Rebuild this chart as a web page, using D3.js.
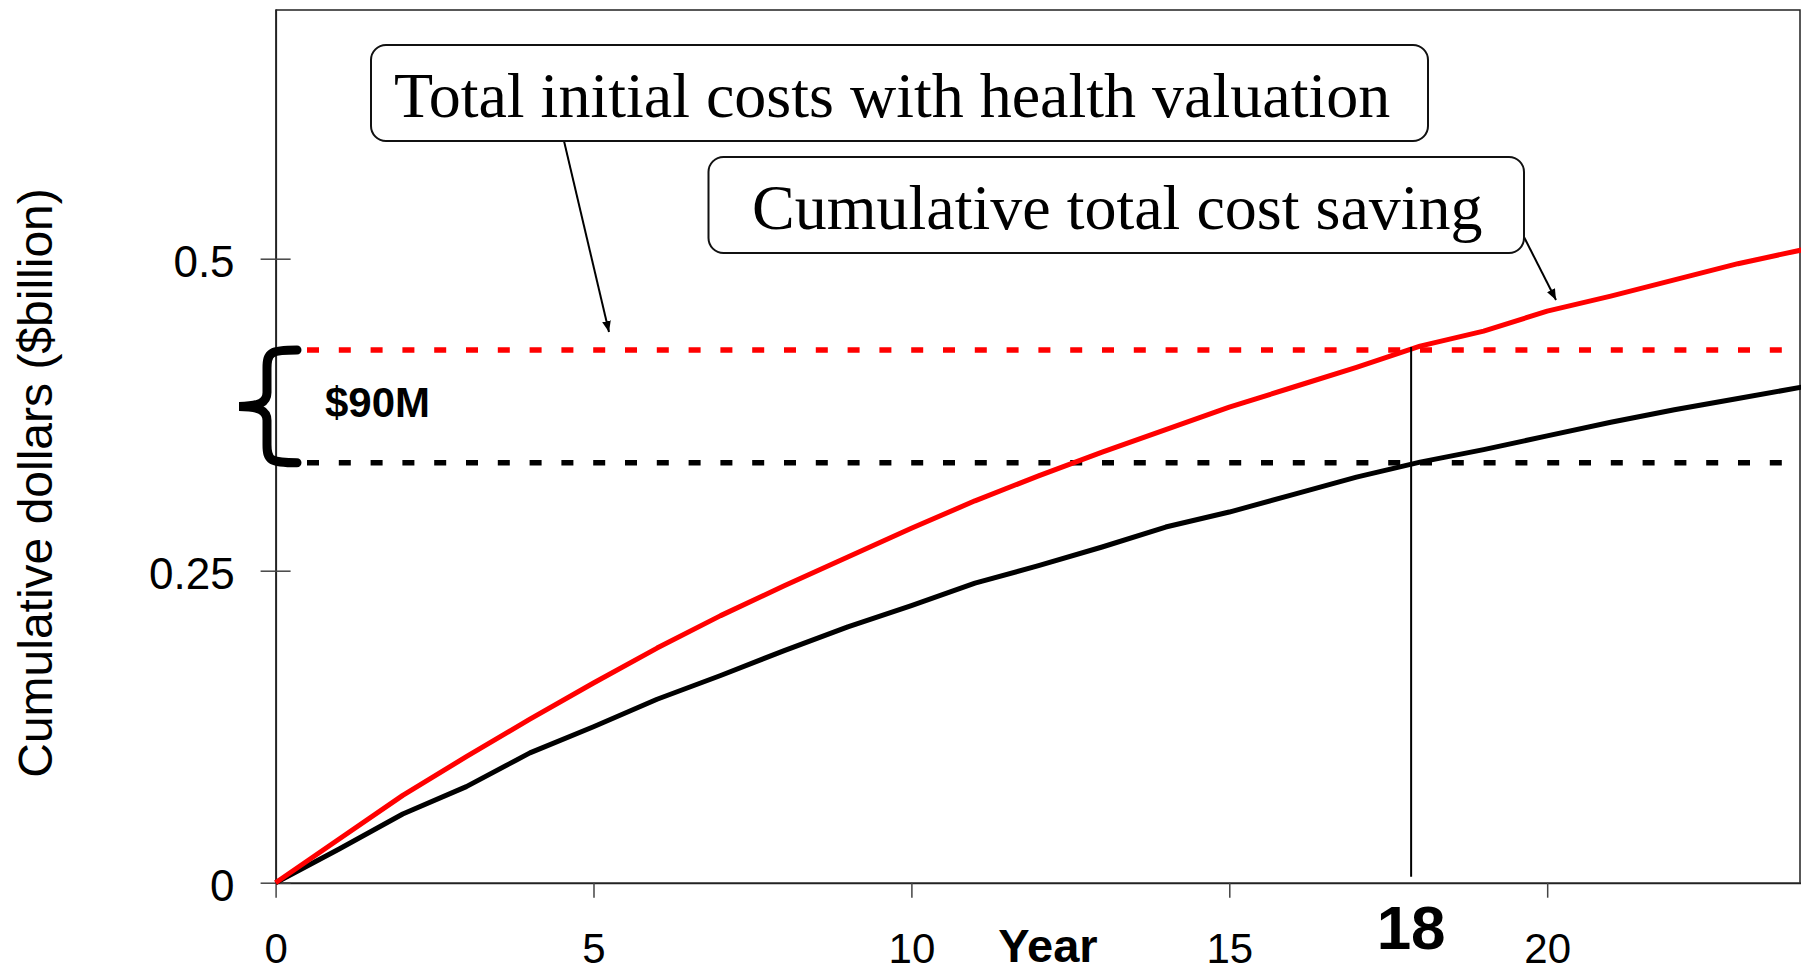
<!DOCTYPE html>
<html>
<head>
<meta charset="utf-8">
<script src="https://cdn.jsdelivr.net/npm/d3@7"></script>
<style>
  body { margin: 0; background: #fff; }
  svg { display: block; }
</style>
</head>
<body>
<div id="chart"></div>
<script>
// cumulative dollars, $billion, year 0..24
const years = [0, 1, 2, 3, 4, 5, 6, 7, 8, 9, 10, 11, 12, 13, 14, 15, 16, 17, 18, 19, 20, 21, 22, 23, 24];
const savingRed = [0, 0.035, 0.070, 0.101, 0.131, 0.160, 0.188, 0.214, 0.238, 0.261, 0.284, 0.306, 0.326,
                   0.345, 0.363, 0.381, 0.397, 0.413, 0.430, 0.442, 0.458, 0.470, 0.483, 0.496, 0.507];
const savingBlack = [0, 0.027, 0.055, 0.077, 0.104, 0.125, 0.147, 0.166, 0.186, 0.205, 0.222, 0.240, 0.254,
                     0.269, 0.285, 0.297, 0.311, 0.325, 0.337, 0.347, 0.358, 0.369, 0.379, 0.388, 0.397];

const initialWithHealth = 0.4268;   // red dashed level
const initialNoHealth = 0.3365;     // black dashed level
const crossYear = 17.86;            // where red curve meets red dashed line
const crossLabel = "18";
const gapLabel = "$90M";

const xTicks = [0, 5, 10, 15, 20];
const yTicks = [0, 0.25, 0.5];

const width = 1801;
const height = 971;

const sans = "'Liberation Sans', Arial, Helvetica, sans-serif";
const serif = "'Liberation Serif', 'Times New Roman', serif";

const svg = d3.select("#chart").append("svg")
    .attr("width", width).attr("height", height);

const xScale = d3.scaleLinear().domain([0, 24]).range([275.6, 1801.5]);
const yScale = d3.scaleLinear().domain([0, 0.7]).range([882.7, 9.1]);

// arrow head
svg.append("defs").append("marker")
    .attr("id", "arrow")
    .attr("viewBox", "0 0 10 8")
    .attr("refX", 10).attr("refY", 4)
    .attr("markerWidth", 11).attr("markerHeight", 9)
    .attr("markerUnits", "userSpaceOnUse")
    .attr("orient", "auto")
    .append("path").attr("d", "M0,0L10,4L0,8z").attr("fill", "#000");

// frame top / right
svg.append("path")
    .attr("d", `M${xScale(0)},10 H1800 V${yScale(0)}`)
    .attr("fill", "none").attr("stroke", "#222").attr("stroke-width", 1.5);

// x axis
const xAxis = d3.axisBottom(xScale).tickValues(xTicks).tickSizeInner(15).tickSizeOuter(0).tickPadding(35);
const gx = svg.append("g").attr("transform", `translate(0,${yScale(0)})`).call(xAxis);
gx.select(".domain").attr("stroke", "#222").attr("stroke-width", 2);
gx.selectAll(".tick line").attr("stroke", "#444").attr("stroke-width", 1.5);
gx.selectAll(".tick text").attr("font-family", sans).attr("font-size", 42).attr("fill", "#000");

// y axis, ticks cross the axis
const yAxis = d3.axisLeft(yScale).tickValues(yTicks).tickSizeInner(15).tickSizeOuter(0).tickPadding(26)
    .tickFormat(d => String(d));
const gy = svg.append("g").attr("transform", `translate(${xScale(0)},0)`).call(yAxis);
gy.select(".domain").attr("stroke", "#222").attr("stroke-width", 2);
gy.selectAll(".tick line").attr("x1", 15).attr("stroke", "#444").attr("stroke-width", 1.5);
gy.selectAll(".tick text").attr("font-family", sans).attr("font-size", 44).attr("fill", "#000").attr("dy", "0.41em");

// axis titles
svg.append("text")
    .attr("transform", `translate(52,483) rotate(-90)`)
    .attr("text-anchor", "middle")
    .attr("font-family", sans).attr("font-size", 48)
    .text("Cumulative dollars ($billion)");

svg.append("text")
    .attr("x", 1048).attr("y", 962)
    .attr("text-anchor", "middle")
    .attr("font-family", sans).attr("font-size", 47).attr("font-weight", "bold")
    .text("Year");

// dashed reference levels
const dashStart = 307;
svg.selectAll(".level")
    .data([{v: initialWithHealth, c: "#ff0000"}, {v: initialNoHealth, c: "#000"}])
    .join("line")
    .attr("class", "level")
    .attr("x1", dashStart).attr("x2", 1800)
    .attr("y1", d => yScale(d.v)).attr("y2", d => yScale(d.v))
    .attr("stroke", d => d.c).attr("stroke-width", 5.5)
    .attr("stroke-dasharray", "12 19.8");

// curves
const line = d3.line().x(d => xScale(d[0])).y(d => yScale(d[1]));
svg.append("path")
    .datum(years.map((y, i) => [y, savingBlack[i]]))
    .attr("d", line).attr("fill", "none")
    .attr("stroke", "#000").attr("stroke-width", 5).attr("stroke-linejoin", "round");
svg.append("path")
    .datum(years.map((y, i) => [y, savingRed[i]]))
    .attr("d", line).attr("fill", "none")
    .attr("stroke", "#ff0000").attr("stroke-width", 5).attr("stroke-linejoin", "round");

// payback marker
svg.append("line")
    .attr("x1", xScale(crossYear)).attr("x2", xScale(crossYear))
    .attr("y1", yScale(initialWithHealth) - 3).attr("y2", yScale(0) - 6)
    .attr("stroke", "#000").attr("stroke-width", 2);
svg.append("text")
    .attr("x", xScale(crossYear)).attr("y", 949)
    .attr("text-anchor", "middle")
    .attr("font-family", sans).attr("font-size", 62).attr("font-weight", "bold")
    .text(crossLabel);

// brace between the two levels
const yTop = yScale(initialWithHealth);
const yBot = yScale(initialNoHealth);
const yMid = (yTop + yBot) / 2;
const bx = 267, armEnd = 297, tip = 239;
svg.append("path")
    .attr("d", `M${armEnd},${yTop} C${bx + 4},${yTop} ${bx},${yTop + 2} ${bx},${yTop + 18}
                L${bx},${yMid - 14} C${bx},${yMid - 4} ${bx - 8},${yMid} ${tip},${yMid}
                C${bx - 8},${yMid} ${bx},${yMid + 4} ${bx},${yMid + 14}
                L${bx},${yBot - 18} C${bx},${yBot - 2} ${bx + 4},${yBot} ${armEnd},${yBot}`)
    .attr("fill", "none").attr("stroke", "#000").attr("stroke-width", 9).attr("stroke-linecap", "round");
svg.append("text")
    .attr("x", 325).attr("y", 416.5)
    .attr("font-family", sans).attr("font-size", 42).attr("font-weight", "bold")
    .text(gapLabel);

// callout boxes
const callouts = [
    {text: "Total initial costs with health valuation", x: 371, y: 45, w: 1057, h: 96, tx: 394, ty: 116.7,
     from: [564, 141], to: [609, 332]},
    {text: "Cumulative total cost saving", x: 708.5, y: 157, w: 815.5, h: 96, tx: 752, ty: 229,
     from: [1524, 237], to: [1556, 300]}
];

const cg = svg.selectAll(".callout").data(callouts).join("g").attr("class", "callout");
cg.append("line")
    .attr("x1", d => d.from[0]).attr("y1", d => d.from[1])
    .attr("x2", d => d.to[0]).attr("y2", d => d.to[1])
    .attr("stroke", "#000").attr("stroke-width", 2)
    .attr("marker-end", "url(#arrow)");
cg.append("rect")
    .attr("x", d => d.x).attr("y", d => d.y)
    .attr("width", d => d.w).attr("height", d => d.h)
    .attr("rx", 15).attr("ry", 15)
    .attr("fill", "#fff").attr("stroke", "#111").attr("stroke-width", 2);
cg.append("text")
    .attr("x", d => d.tx).attr("y", d => d.ty)
    .attr("font-family", serif).attr("font-size", 64)
    .text(d => d.text);
</script>
</body>
</html>
